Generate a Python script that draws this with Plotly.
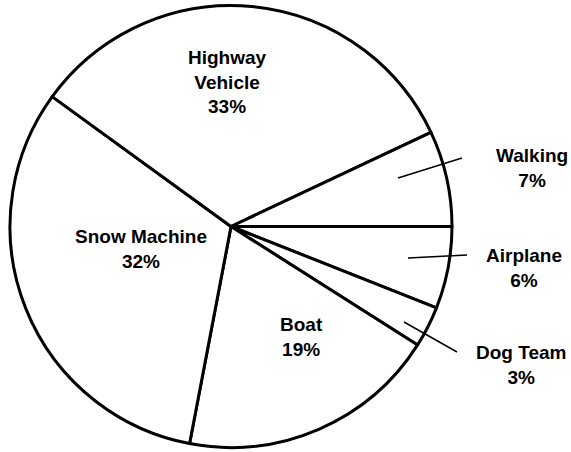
import plotly.graph_objects as go

W, H = 571, 452

# slices, clockwise from 3 o'clock
labels = ['Airplane', 'Dog Team', 'Boat', 'Snow Machine', 'Highway Vehicle', 'Walking']
values = [6, 3, 19, 32, 33, 7]
label_text = ['Airplane', 'Dog Team', 'Boat', 'Snow Machine', 'Highway<br>Vehicle', 'Walking']

# label block centres in pixels (x, y from top)
label_pos = {
    'Walking': (532, 168),
    'Highway Vehicle': (227, 82),
    'Snow Machine': (141, 249),
    'Boat': (301, 337),
    'Dog Team': (521, 365),
    'Airplane': (524, 268),
}
# leader lines for the small outside labels, pixels
leaders = {
    'Walking': ((398, 178), (462, 158)),
    'Airplane': ((408, 258), (467, 255)),
    'Dog Team': ((404, 322), (457, 352)),
}


def px_x(x):
    return x / W


def px_y(y):
    return 1 - y / H


fig = go.Figure(go.Pie(
    labels=labels,
    values=values,
    sort=False,
    direction='clockwise',
    rotation=90,
    textinfo='none',
    hoverinfo='label+percent',
    marker=dict(colors=['white'] * len(labels), line=dict(color='black', width=3)),
    domain=dict(x=[px_x(10), px_x(452)], y=[px_y(448), px_y(5)]),
    showlegend=False,
))

font = dict(family='Liberation Sans, Arial, sans-serif', size=19, color='black')
for name, txt, v in zip(labels, label_text, values):
    x, y = label_pos[name]
    fig.add_annotation(
        x=px_x(x), y=px_y(y), xref='paper', yref='paper',
        xanchor='center', yanchor='middle',
        text=f'<b>{txt}<br>{v}%</b>', showarrow=False, font=font, align='center',
    )

for name, ((x0, y0), (x1, y1)) in leaders.items():
    fig.add_shape(type='line', xref='paper', yref='paper',
                  x0=px_x(x0), y0=px_y(y0), x1=px_x(x1), y1=px_y(y1),
                  line=dict(color='black', width=1.5))

fig.update_layout(
    width=W, height=H,
    margin=dict(l=0, r=0, t=0, b=0),
    paper_bgcolor='white',
    plot_bgcolor='white',
)

# drop the browser's default body margin so the figure fills the window
fig.write_html('out.html', config={'displayModeBar': False},
               post_script="document.body.style.margin='0';")
